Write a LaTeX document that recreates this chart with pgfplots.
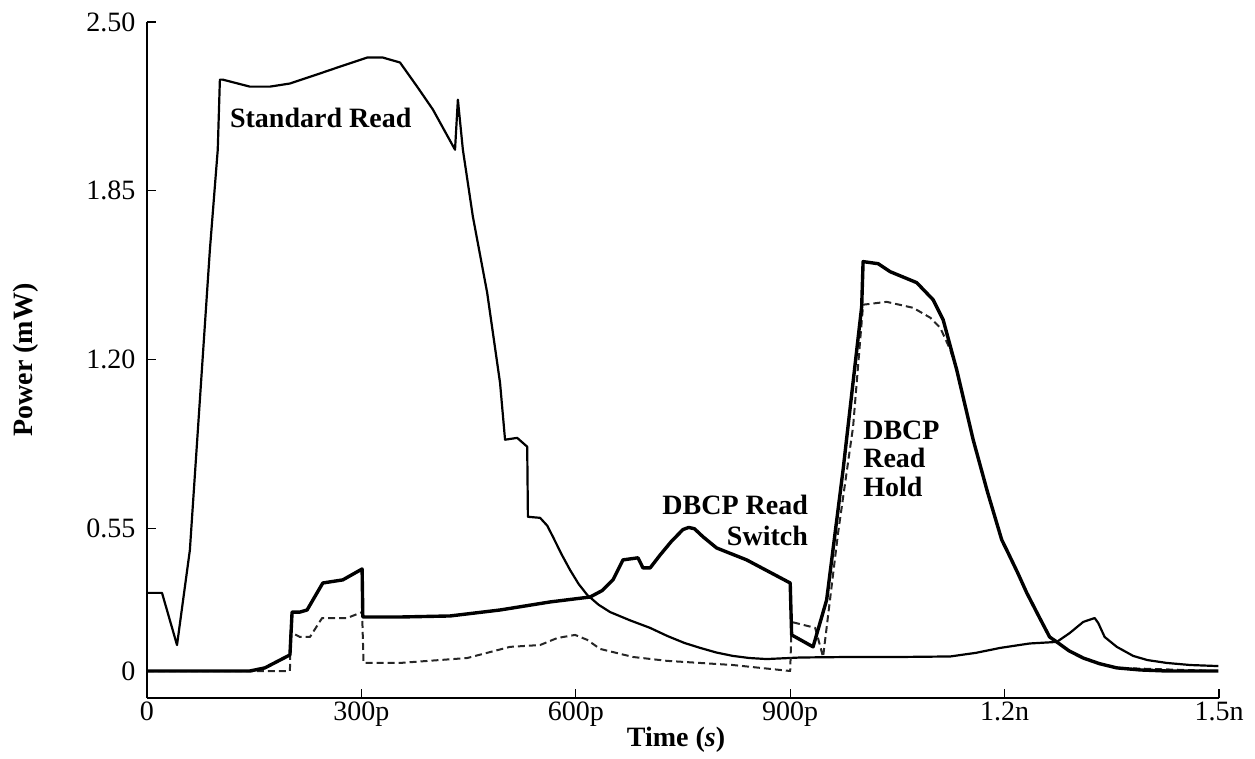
\documentclass[border=0pt]{standalone}
\usepackage{fontspec}
\setmainfont{Liberation Serif}
\usepackage{pgfplots}
\pgfplotsset{compat=1.18}

% Standard read: single read port, full bit-line swing
\pgfplotstableread{
t p
0 0.301
21 0.301
42 0.100
60 0.466
88 1.623
99 2.008
102 2.278
106 2.278
144 2.251
172 2.251
200 2.263
238 2.298
270 2.328
308 2.363
330 2.363
354 2.344
378 2.251
400 2.163
431 2.008
435 2.201
442 2.008
456 1.750
476 1.457
494 1.110
501 0.891
518 0.898
532 0.864
533 0.594
550 0.590
560 0.560
568 0.517
580 0.450
592 0.389
604 0.335
616 0.293
632 0.255
648 0.227
676 0.195
704 0.166
728 0.135
752 0.108
774 0.089
797 0.071
820 0.058
843 0.050
867 0.046
914 0.052
984 0.054
1054 0.054
1124 0.056
1160 0.070
1194 0.089
1235 0.106
1273 0.112
1291 0.146
1310 0.189
1326 0.204
1331 0.185
1340 0.131
1357 0.093
1380 0.058
1400 0.042
1427 0.031
1460 0.023
1499 0.019
}\standardread

% DBCP read, switching phase
\pgfplotstableread{
t p
0 0.000
144 0.000
165 0.012
200 0.062
203 0.227
214 0.227
224 0.235
246 0.339
274 0.351
301 0.393
302 0.208
354 0.208
424 0.212
494 0.235
564 0.266
620 0.285
637 0.310
652 0.351
666 0.428
687 0.436
694 0.397
704 0.397
718 0.447
734 0.500
750 0.545
758 0.553
766 0.548
778 0.517
797 0.474
839 0.428
900 0.339
902 0.139
932 0.093
951 0.274
974 0.775
1000 1.403
1002 1.577
1023 1.569
1040 1.538
1077 1.496
1100 1.430
1114 1.353
1133 1.160
1156 0.891
1176 0.690
1196 0.505
1203 0.466
1218 0.380
1231 0.301
1248 0.210
1263 0.131
1273 0.112
1290 0.078
1310 0.050
1333 0.028
1357 0.012
1390 0.004
1427 0.000
1499 0.000
}\dbcpswitch

% DBCP read, hold phase
\pgfplotstableread{
t p
0 0.000
200 0.000
201 0.150
214 0.131
228 0.131
245 0.204
260 0.204
280 0.204
301 0.227
303 0.031
354 0.031
448 0.050
508 0.093
550 0.100
574 0.127
599 0.139
616 0.120
634 0.085
680 0.054
728 0.039
820 0.023
900 0.000
902 0.189
935 0.166
946 0.054
967 0.532
988 0.941
1002 1.411
1035 1.422
1072 1.399
1096 1.361
1110 1.322
1124 1.237
1133 1.160
1156 0.891
1176 0.690
1196 0.505
1218 0.380
1231 0.301
1248 0.210
1263 0.131
1290 0.078
1310 0.050
1333 0.028
1357 0.012
1499 0.000
}\dbcphold

\newcommand{\chartfont}{\fontsize{28bp}{30bp}\selectfont}

\begin{document}
\begin{tikzpicture}
\begin{axis}[
  at={(0,0)}, anchor=south west,
  scale only axis,
  width=1072bp, height=676bp,
  xmin=0, xmax=1500,
  ymin=-0.104, ymax=2.5,
  axis lines=left,
  axis line style={-, line width=1.6bp, black},
  tick align=inside,
  major tick length=9bp,
  tick style={line width=1.2bp, black},
  xtick={0,300,600,900,1200,1500},
  xticklabels={\textrm{0},\textrm{300p},\textrm{600p},\textrm{900p},\textrm{1.2n},\textrm{1.5n}},
  ytick={0,0.55,1.2,1.85,2.5},
  yticklabels={\textrm{0},\textrm{0.55},\textrm{1.20},\textrm{1.85},\textrm{2.50}},
  ticklabel style={font=\chartfont},
  yticklabel style={xshift=-8bp},
  xlabel={\textbf{Time (}\textbf{\textit{s}}\textbf{)}},
  ylabel={\textbf{Power (mW)}},
  label style={font=\chartfont},
  xlabel style={at={(axis description cs:0.4935,-0.0621)}, anchor=center},
  ylabel style={at={(axis description cs:-0.1129,0.5)}, anchor=center, rotate=0},
  clip=false,
]
\addplot[black, line width=2.2bp, line join=round] table[x=t, y=p] {\standardread};
\addplot[black!85, line width=2bp, dash pattern=on 7bp off 4bp, line join=round] table[x=t, y=p] {\dbcphold};
\addplot[black, line width=3.4bp, line join=round] table[x=t, y=p] {\dbcpswitch};

\node[anchor=base west, inner sep=0, font=\chartfont\bfseries] at (axis cs:116,2.093) {Standard Read};
\node[anchor=base east, inner sep=0, font=\chartfont\bfseries] at (axis cs:925,0.601) {DBCP Read};
\node[anchor=base east, inner sep=0, font=\chartfont\bfseries] at (axis cs:925,0.482) {Switch};
\node[anchor=base west, inner sep=0, font=\chartfont\bfseries] at (axis cs:1002,0.890) {DBCP};
\node[anchor=base west, inner sep=0, font=\chartfont\bfseries] at (axis cs:1002,0.783) {Read};
\node[anchor=base west, inner sep=0, font=\chartfont\bfseries] at (axis cs:1002,0.671) {Hold};
\end{axis}
\pgfresetboundingbox
\path[use as bounding box] (-147bp,-61bp) rectangle (1108bp,698bp);
\end{tikzpicture}
\end{document}
